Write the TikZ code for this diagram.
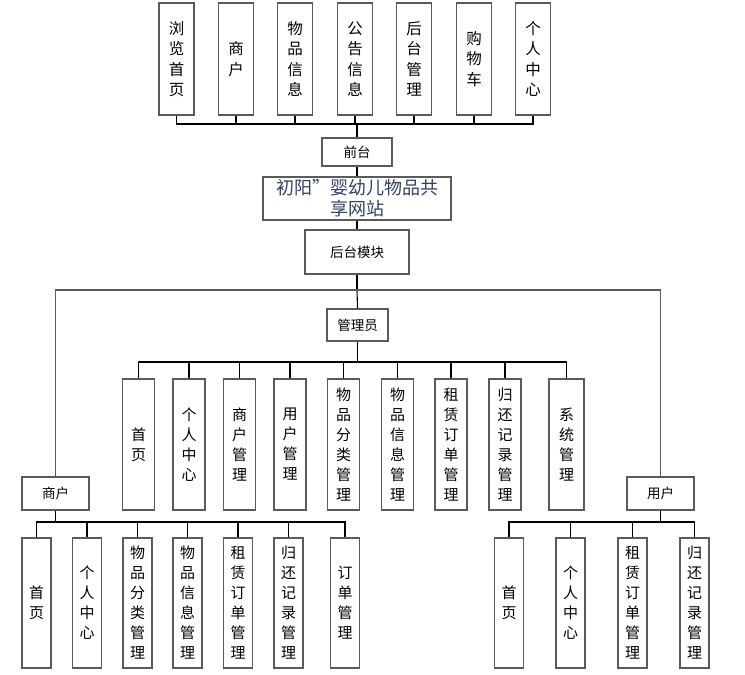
\documentclass[tikz,border=0pt]{standalone}
\usepackage{fontspec}
\newfontfamily\cjk{Noto Sans CJK SC}
\definecolor{boxgray}{RGB}{90,90,90}
\definecolor{titleblue}{RGB}{50,65,105}
\tikzset{
  vbox/.style={draw=boxgray, line width=1.3pt, fill=white, inner sep=0pt, align=center,
    font=\cjk\fontsize{15}{20}\selectfont},
  hbox/.style={draw=boxgray, line width=1.3pt, fill=white, inner sep=0pt, align=center,
    font=\cjk\fontsize{13.5}{16}\selectfont},
  conn/.style={draw=black, line width=1.1pt},
}
\begin{document}
\begin{tikzpicture}[x=1pt,y=-1pt]
\useasboundingbox (0,0) rectangle (745,675);
% top row
\foreach \n/\cx/\t in {t1/176.5/浏\\览\\首\\页, t2/236/商\\户, t3/295/物\\品\\信\\息, t4/355/公\\告\\信\\息, t5/414/后\\台\\管\\理, t6/474/购\\物\\车, t7/533/个\\人\\中\\心}
  \node[vbox, minimum width=35pt, minimum height=112pt, font=\cjk\fontsize{15.5}{20.5}\selectfont] (\n) at (\cx,59) {\t};
\node[hbox, minimum width=70pt, minimum height=28pt] (qt) at (357,152) {前台};
\node[hbox, minimum width=188pt, minimum height=43pt, text=titleblue,
  font=\cjk\fontsize{18}{21}\selectfont] (title) at (357,198.5) {初阳”婴幼儿物品共\\享网站};
\node[hbox, minimum width=104pt, minimum height=44pt] (ht) at (357,252) {后台模块};
\node[hbox, minimum width=61pt, minimum height=32pt] (admin) at (357.5,325) {管理员};
\node[hbox, minimum width=67pt, minimum height=33pt] (sh) at (55.5,493.5) {商户};
\node[hbox, minimum width=67pt, minimum height=33pt] (yh) at (660.5,493.5) {用户};
% admin children
\foreach \n/\cx/\w/\t in {a1/138.5/32/首\\页, a2/189/32/个\\人\\中\\心, a3/239.5/32/商\\户\\管\\理, a4/290/32/用\\户\\管\\理, a5/343.5/32/物\\品\\分\\类\\管\\理, a6/397.5/32/物\\品\\信\\息\\管\\理, a7/451/32/租\\赁\\订\\单\\管\\理, a8/505/32/归\\还\\记\\录\\管\\理, a9/566.5/35/系\\统\\管\\理}
  \node[vbox, minimum width=\w pt, minimum height=131pt] (\n) at (\cx,444.5) {\t};
% shanghu children
\foreach \n/\cx/\t in {s1/36.5/首\\页, s2/87/个\\人\\中\\心, s3/137.5/物\\品\\分\\类\\管\\理, s4/187.5/物\\品\\信\\息\\管\\理, s5/238/租\\赁\\订\\单\\管\\理, s6/288.5/归\\还\\记\\录\\管\\理, s7/345/订\\单\\管\\理}
  \node[vbox, minimum width=29pt, minimum height=130pt] (\n) at (\cx,603) {\t};
% yonghu children
\foreach \n/\cx/\t in {u1/509/首\\页, u2/570.5/个\\人\\中\\心, u3/632.5/租\\赁\\订\\单\\管\\理, u4/694.5/归\\还\\记\\录\\管\\理}
  \node[vbox, minimum width=29pt, minimum height=130pt] (\n) at (\cx,603) {\t};
% buses
\coordinate (bt) at (357,124);
\coordinate (bm) at (357,290);
\coordinate (ba) at (357.5,362);
\coordinate (bs) at (55.5,522);
\coordinate (bu) at (660.5,522);
\foreach \n in {t1,t2,t3,t4,t5,t6,t7} \draw[conn] (\n.south) |- (bt);
\draw[conn] (bt) -- (qt.north);
\draw[conn] (qt.south) -- (title.north);
\draw[conn] (title.south) -- (ht.north);
\draw[conn] (ht.south) -- (bm);
\draw[conn] (bm) -- (admin.north);
\draw[conn, draw=boxgray] (sh.north) |- (bm);
\draw[conn, draw=boxgray] (yh.north) |- (bm);
\draw[conn] (admin.south) -- (ba);
\foreach \n in {a1,a2,a3,a4,a5,a6,a7,a8,a9} \draw[conn] (\n.north) |- (ba);
\draw[conn] (sh.south) -- (bs);
\foreach \n in {s1,s2,s3,s4,s5,s6,s7} \draw[conn] (\n.north) |- (bs);
\draw[conn] (yh.south) -- (bu);
\foreach \n in {u1,u2,u3,u4} \draw[conn] (\n.north) |- (bu);
\end{tikzpicture}
\end{document}
